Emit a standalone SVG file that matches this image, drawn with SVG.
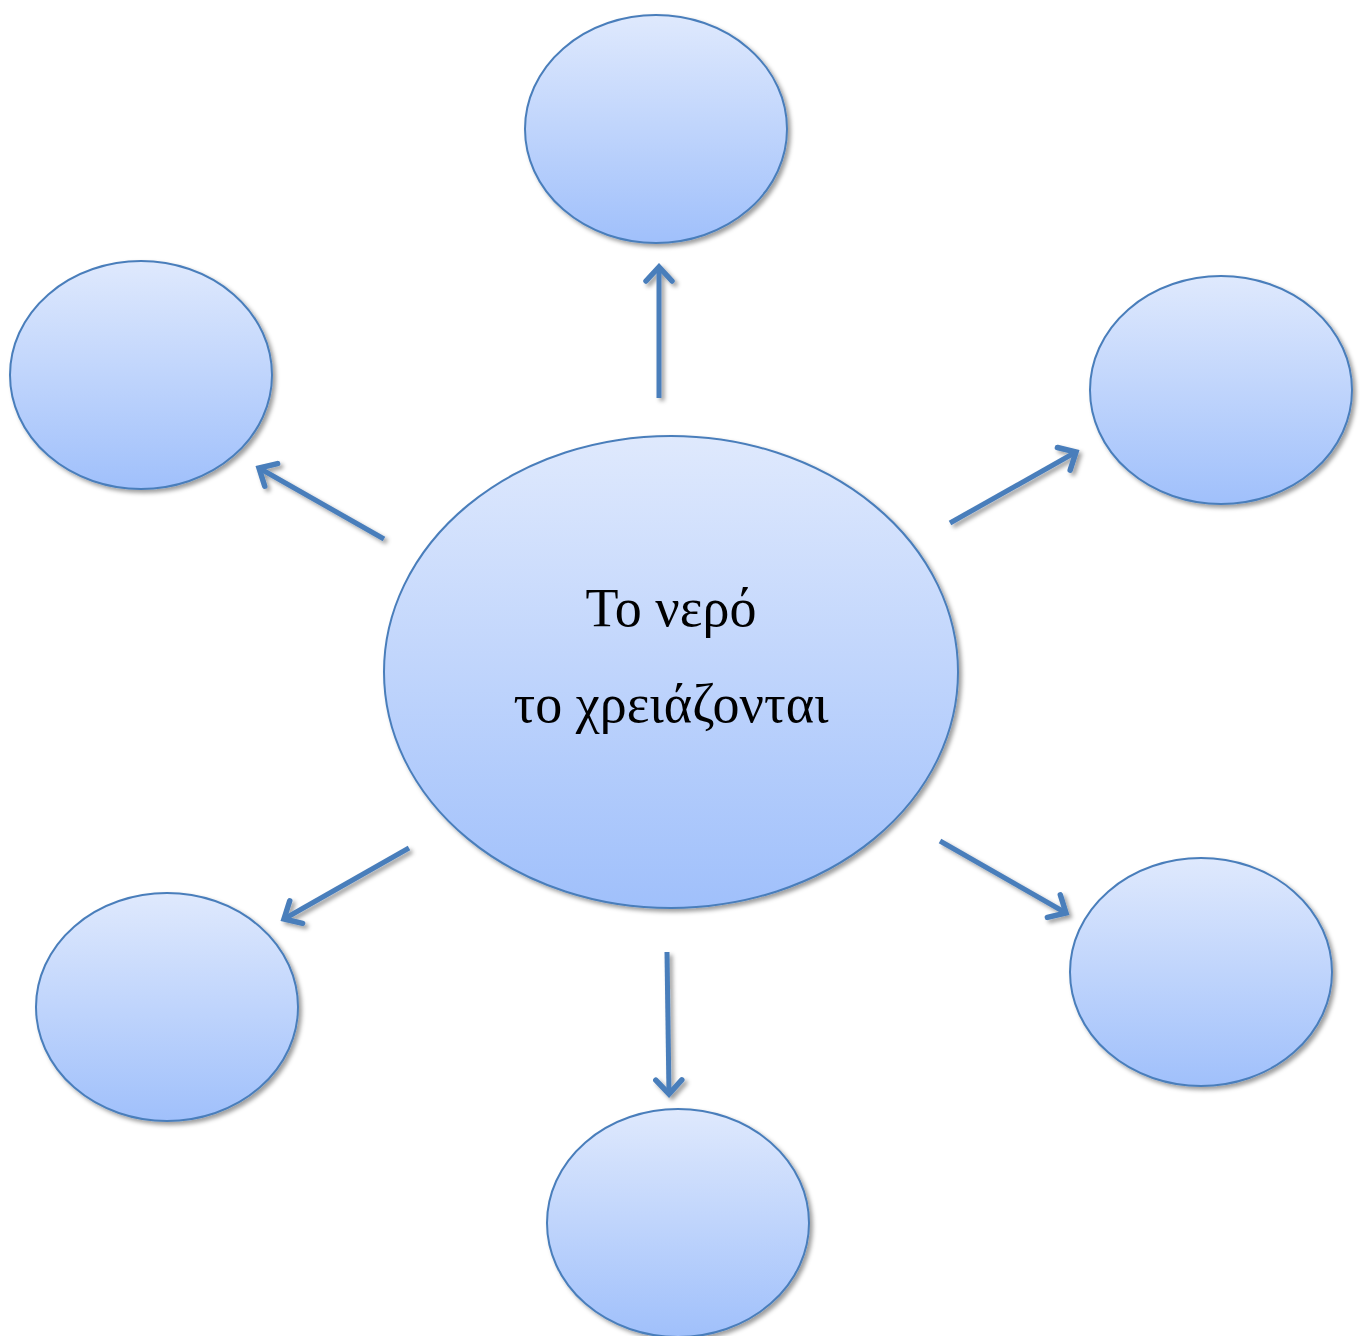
<svg xmlns="http://www.w3.org/2000/svg" width="1360" height="1336" viewBox="0 0 1360 1336">
  <defs>
    <linearGradient id="bubbleFill" x1="0" y1="0" x2="0" y2="1">
      <stop offset="0" stop-color="#dfe9fd"/>
      <stop offset="1" stop-color="#a0c0fb"/>
    </linearGradient>
    <filter id="softShadow" x="-10%" y="-10%" width="125%" height="125%">
      <feDropShadow dx="3" dy="3" stdDeviation="2.2" flood-color="#000" flood-opacity="0.38"/>
    </filter>
    <filter id="linkShadow" filterUnits="userSpaceOnUse" x="0" y="0" width="1360" height="1336">
      <feDropShadow dx="3" dy="3" stdDeviation="2.2" flood-color="#000" flood-opacity="0.38"/>
    </filter>
    <marker id="chevron" viewBox="-20 -16 24 32" markerWidth="24" markerHeight="32" refX="0" refY="0" orient="auto" markerUnits="userSpaceOnUse">
      <path d="M-14,-13 L0,0 L-14,13" fill="none" stroke="#4a7ebb" stroke-width="5.5" stroke-linecap="round" stroke-linejoin="miter"/>
    </marker>
    <style>
      .bubble { fill: url(#bubbleFill); stroke: #4a7ebb; stroke-width: 2; filter: url(#softShadow); }
      .link { stroke: #4a7ebb; stroke-width: 5; fill: none; marker-end: url(#chevron); }
      .label { font-family: "Liberation Serif", "DejaVu Serif", serif; font-size: 54px; fill: #000; text-anchor: middle; }
    </style>
  </defs>

  <!-- connectors from the central bubble outward -->
  <g id="connectors" filter="url(#linkShadow)">
    <line class="link" x1="659" y1="398" x2="659" y2="267"/>
    <line class="link" x1="384" y1="539" x2="259" y2="468"/>
    <line class="link" x1="950" y1="523" x2="1076" y2="452"/>
    <line class="link" x1="409" y1="848" x2="284" y2="919"/>
    <line class="link" x1="940" y1="841" x2="1066" y2="913"/>
    <line class="link" x1="667" y1="952" x2="669" y2="1094"/>
  </g>

  <g id="center">
    <ellipse class="bubble" cx="671" cy="672" rx="287" ry="236"/>
    <text class="label" x="671" y="626">Το νερό</text>
    <text class="label" x="671" y="722">το χρειάζονται</text>
  </g>
  <g id="top"><ellipse class="bubble" cx="656" cy="129" rx="131" ry="114"/></g>
  <g id="upper-left"><ellipse class="bubble" cx="141" cy="375" rx="131" ry="114"/></g>
  <g id="upper-right"><ellipse class="bubble" cx="1221" cy="390" rx="131" ry="114"/></g>
  <g id="lower-left"><ellipse class="bubble" cx="167" cy="1007" rx="131" ry="114"/></g>
  <g id="lower-right"><ellipse class="bubble" cx="1201" cy="972" rx="131" ry="114"/></g>
  <g id="bottom"><ellipse class="bubble" cx="678" cy="1223" rx="131" ry="114"/></g>
</svg>
